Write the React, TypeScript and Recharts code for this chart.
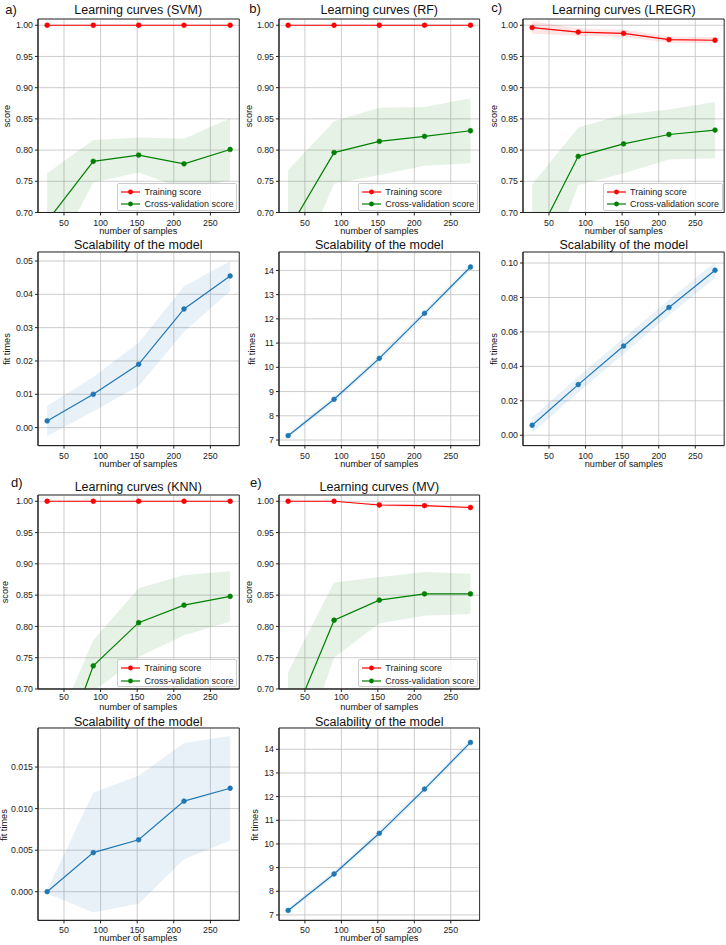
import React from "react";
import {
  ComposedChart,
  Line,
  Area,
  XAxis,
  YAxis,
  CartesianGrid,
  ReferenceArea,
} from "recharts";

// training set sizes used by learning_curve (shared by every panel)
const sampleSizes = [27, 90, 152, 214, 277];
const xTicks = [50, 100, 150, 200, 250];
const scoreTicks = [0.7, 0.75, 0.8, 0.85, 0.9, 0.95, 1.0];

// a) SVM
const svmTrainMean = [1, 1, 1, 1, 1];
const svmTrainStd = [0, 0, 0, 0, 0];
const svmCvMean = [0.686, 0.782, 0.792, 0.778, 0.801];
const svmCvStd = [0.077, 0.034, 0.028, 0.04, 0.05];
const svmFitMean = [0.002, 0.01, 0.019, 0.0356, 0.0455];
const svmFitStd = [0.0045, 0.0052, 0.0065, 0.0068, 0.0045];
const svmFitTicks = [0, 0.01, 0.02, 0.03, 0.04, 0.05];

// b) RF
const rfTrainMean = [1, 1, 1, 1, 1];
const rfTrainStd = [0, 0, 0, 0, 0];
const rfCvMean = [0.671, 0.796, 0.814, 0.822, 0.831];
const rfCvStd = [0.097, 0.05, 0.054, 0.047, 0.052];
const rfFitMean = [7.18, 8.68, 10.37, 12.23, 14.14];
const rfFitStd = [0.1, 0.12, 0.13, 0.13, 0.12];
const rfFitTicks = [7, 8, 9, 10, 11, 12, 13, 14];

// c) LREGR
const lrTrainMean = [0.9963, 0.989, 0.987, 0.977, 0.976];
const lrTrainStd = [0.01, 0.006, 0.006, 0.005, 0.005];
const lrCvMean = [0.645, 0.79, 0.81, 0.825, 0.832];
const lrCvStd = [0.1, 0.046, 0.047, 0.04, 0.045];
const lrFitMean = [0.0058, 0.0294, 0.0518, 0.0742, 0.0958];
const lrFitStd = [0.0045, 0.0045, 0.0045, 0.0045, 0.0045];
const lrFitTicks = [0, 0.02, 0.04, 0.06, 0.08, 0.1];

// d) KNN
const knnTrainMean = [1, 1, 1, 1, 1];
const knnTrainStd = [0, 0, 0, 0, 0];
const knnCvMean = [0.535, 0.737, 0.806, 0.834, 0.848];
const knnCvStd = [0.072, 0.041, 0.055, 0.048, 0.04];
const knnFitMean = [0.0, 0.0047, 0.00625, 0.0109, 0.01245];
const knnFitStd = [0.0002, 0.0072, 0.0077, 0.007, 0.0063];
const knnFitTicks = [0, 0.005, 0.01, 0.015];

// e) MV
const mvTrainMean = [1.0, 1.0, 0.994, 0.993, 0.99];
const mvTrainStd = [0, 0, 0.002, 0.002, 0.002];
const mvCvMean = [0.633, 0.81, 0.842, 0.852, 0.852];
const mvCvStd = [0.094, 0.06, 0.037, 0.035, 0.032];
const mvFitMean = [7.19, 8.73, 10.45, 12.32, 14.29];
const mvFitStd = [0.1, 0.12, 0.13, 0.13, 0.12];
const mvFitTicks = [7, 8, 9, 10, 11, 12, 13, 14];

const FONT = '"Liberation Sans", Arial, Helvetica, sans-serif';
const INK = "#222";
const RED = "#ff0000";
const GREEN = "#008000";
const BLUE = "#1f77b4";
const X_DOMAIN: [number, number] = [14.5, 289.5];
const SCORE_DOMAIN: [number, number] = [0.7, 1.01];

const YW = 40;
const MT = 4;
const MR = 4;
const XH = 22;

type Box = { l: number; t: number; r: number; b: number };
type Series = { key: string; color: string };

const band = (m: number[], s: number[], i: number) => [m[i] - s[i], m[i] + s[i]];

function learningRows(tm: number[], ts: number[], cm: number[], cs: number[]) {
  return sampleSizes.map((x, i) => ({
    x,
    train: tm[i],
    trainBand: band(tm, ts, i),
    cv: cm[i],
    cvBand: band(cm, cs, i),
  }));
}

function fitRows(fm: number[], fs: number[]) {
  return sampleSizes.map((x, i) => ({ x, fit: fm[i], fitBand: band(fm, fs, i) }));
}

function Plot({
  box,
  rows,
  yDomain,
  yTicks,
  digits,
  series,
  tickGap,
}: {
  box: Box;
  rows: any[];
  yDomain: [number, number];
  yTicks: number[];
  digits: number;
  series: Series[];
  tickGap: number;
}) {
  const w = box.r - box.l + YW + MR;
  const h = box.b - box.t + MT + XH;
  const tickStyle = { fontSize: 8.8, fill: INK, fontFamily: FONT };
  return (
    <div style={{ position: "absolute", left: box.l - YW, top: box.t - MT }}>
      <ComposedChart
        width={w}
        height={h}
        data={rows}
        margin={{ top: MT, right: MR, left: 0, bottom: 0 }}
      >
        <CartesianGrid stroke="#c0c0c0" strokeWidth={0.8} />
        <XAxis
          type="number"
          dataKey="x"
          domain={X_DOMAIN}
          ticks={xTicks}
          height={XH}
          tickSize={3}
          tickMargin={tickGap}
          tick={tickStyle}
          axisLine={{ stroke: INK }}
          tickLine={{ stroke: INK }}
        />
        <YAxis
          type="number"
          domain={yDomain}
          allowDataOverflow
          ticks={yTicks}
          width={YW}
          tickFormatter={(v: number) => v.toFixed(digits)}
          tickSize={3}
          tickMargin={2}
          tick={tickStyle}
          axisLine={{ stroke: INK }}
          tickLine={{ stroke: INK }}
        />
        {series.map((s) => (
          <Area
            key={s.key + "Band"}
            dataKey={s.key + "Band"}
            type="linear"
            fill={s.color}
            fillOpacity={0.1}
            stroke="none"
            activeDot={false}
            isAnimationActive={false}
          />
        ))}
        {series.map((s) => (
          <Line
            key={s.key}
            dataKey={s.key}
            type="linear"
            stroke={s.color}
            strokeWidth={1.2}
            dot={{ r: 2.4, fill: s.color, stroke: s.color, strokeWidth: 0.6 }}
            activeDot={false}
            isAnimationActive={false}
          />
        ))}
        <ReferenceArea
          x1={X_DOMAIN[0]}
          x2={X_DOMAIN[1]}
          y1={yDomain[0]}
          y2={yDomain[1]}
          fill="none"
          stroke={INK}
          strokeWidth={0.9}
          ifOverflow="visible"
        />
      </ComposedChart>
    </div>
  );
}

function LegendBox({ box }: { box: Box }) {
  const W = 120;
  const H = 28;
  const items = [
    { label: "Training score", color: RED },
    { label: "Cross-validation score", color: GREEN },
  ];
  return (
    <div
      style={{
        position: "absolute",
        left: box.r - 1.6 - W,
        top: box.b - 1.6 - H,
        width: W,
        height: H,
        boxSizing: "border-box",
        background: "rgba(255,255,255,0.8)",
        border: "1px solid #cccccc",
        borderRadius: 2,
        fontFamily: FONT,
        fontSize: 9,
        color: INK,
      }}
    >
      {items.map((it, i) => (
        <div
          key={it.label}
          style={{
            position: "absolute",
            left: 3,
            top: 2 + i * 12.3,
            height: 12,
            display: "flex",
            alignItems: "center",
            whiteSpace: "nowrap",
          }}
        >
          <svg width={19} height={8}>
            <line x1={0} y1={4} x2={19} y2={4} stroke={it.color} strokeWidth={1.2} />
            <circle cx={9.5} cy={4} r={2.4} fill={it.color} />
          </svg>
          <span style={{ marginLeft: 4.3 }}>{it.label}</span>
        </div>
      ))}
    </div>
  );
}

function Text({
  x,
  y,
  size,
  children,
  rotate,
}: {
  x: number;
  y: number;
  size: number;
  children: React.ReactNode;
  rotate?: boolean;
}) {
  return (
    <div
      style={{
        position: "absolute",
        left: x,
        top: y,
        transform: `translate(-50%, -50%)${rotate ? " rotate(-90deg)" : ""}`,
        whiteSpace: "nowrap",
        fontFamily: FONT,
        fontSize: size,
        lineHeight: 1,
        color: "#111",
      }}
    >
      {children}
    </div>
  );
}

const colA = { l: 37.6, r: 238.9 };
const colB = { l: 279, r: 479.6 };
const colC = { l: 523.2, r: 724.4 };
const row1 = { t: 18.8, b: 212.3, title: 10, xlab: 232.3, gap: 4 };
const row2 = { t: 251.7, b: 445.3, title: 245, xlab: 465, gap: 4 };
const row3 = { t: 495, b: 689, title: 487.3, xlab: 707.5, gap: 2 };
const row4 = { t: 728.3, b: 920.7, title: 721.7, xlab: 939.3, gap: 3 };

const panels = [
  {
    letter: "a)", name: "SVM", col: colA, top: row1, bottom: row2,
    letterPos: [11, 9], ylab: [7.5, 7.5],
    learn: learningRows(svmTrainMean, svmTrainStd, svmCvMean, svmCvStd),
    fit: fitRows(svmFitMean, svmFitStd),
    fitDomain: [-0.0054, 0.0527] as [number, number], fitTicks: svmFitTicks, fitDigits: 2,
  },
  {
    letter: "b)", name: "RF", col: colB, top: row1, bottom: row2,
    letterPos: [255, 8.3], ylab: [250, 253],
    learn: learningRows(rfTrainMean, rfTrainStd, rfCvMean, rfCvStd),
    fit: fitRows(rfFitMean, rfFitStd),
    fitDomain: [6.77, 14.76] as [number, number], fitTicks: rfFitTicks, fitDigits: 0,
  },
  {
    letter: "c)", name: "LREGR", col: colC, top: row1, bottom: row2,
    letterPos: [496.7, 7.3], ylab: [495, 495],
    learn: learningRows(lrTrainMean, lrTrainStd, lrCvMean, lrCvStd),
    fit: fitRows(lrFitMean, lrFitStd),
    fitDomain: [-0.006, 0.1064] as [number, number], fitTicks: lrFitTicks, fitDigits: 2,
  },
  {
    letter: "d)", name: "KNN", col: colA, top: row3, bottom: row4,
    letterPos: [16.7, 481.7], ylab: [6, 5],
    learn: learningRows(knnTrainMean, knnTrainStd, knnCvMean, knnCvStd),
    fit: fitRows(knnFitMean, knnFitStd),
    fitDomain: [-0.00345, 0.0197] as [number, number], fitTicks: knnFitTicks, fitDigits: 3,
  },
  {
    letter: "e)", name: "MV", col: colB, top: row3, bottom: row4,
    letterPos: [255.8, 481.7], ylab: [250, 256],
    learn: learningRows(mvTrainMean, mvTrainStd, mvCvMean, mvCvStd),
    fit: fitRows(mvFitMean, mvFitStd),
    fitDomain: [6.77, 14.9] as [number, number], fitTicks: mvFitTicks, fitDigits: 0,
  },
];

export default function App() {
  return (
    <div
      style={{
        position: "absolute",
        left: 0,
        top: 0,
        width: 726,
        height: 945,
        background: "#fff",
        overflow: "hidden",
      }}
    >
      {panels.map((p) => {
        const lb: Box = { l: p.col.l, r: p.col.r, t: p.top.t, b: p.top.b };
        const fb: Box = { l: p.col.l, r: p.col.r, t: p.bottom.t, b: p.bottom.b };
        const cx = (p.col.l + p.col.r) / 2;
        return (
          <React.Fragment key={p.letter}>
            <Plot
              box={lb}
              rows={p.learn}
              yDomain={SCORE_DOMAIN}
              yTicks={scoreTicks}
              digits={2}
              tickGap={p.top.gap}
              series={[
                { key: "train", color: RED },
                { key: "cv", color: GREEN },
              ]}
            />
            <LegendBox box={lb} />
            <Plot
              box={fb}
              rows={p.fit}
              yDomain={p.fitDomain}
              yTicks={p.fitTicks}
              digits={p.fitDigits}
              tickGap={p.bottom.gap}
              series={[{ key: "fit", color: BLUE }]}
            />
            <Text x={p.letterPos[0]} y={p.letterPos[1]} size={13}>
              {p.letter}
            </Text>
            <Text x={cx} y={p.top.title} size={12.5}>
              Learning curves ({p.name})
            </Text>
            <Text x={cx} y={p.top.xlab} size={9.2}>
              number of samples
            </Text>
            <Text x={p.ylab[0]} y={(lb.t + lb.b) / 2} size={9.2} rotate>
              score
            </Text>
            <Text x={cx} y={p.bottom.title} size={12.5}>
              Scalability of the model
            </Text>
            <Text x={cx} y={p.bottom.xlab} size={9.2}>
              number of samples
            </Text>
            <Text x={p.ylab[1]} y={(fb.t + fb.b) / 2} size={9.2} rotate>
              fit times
            </Text>
          </React.Fragment>
        );
      })}
    </div>
  );
}
